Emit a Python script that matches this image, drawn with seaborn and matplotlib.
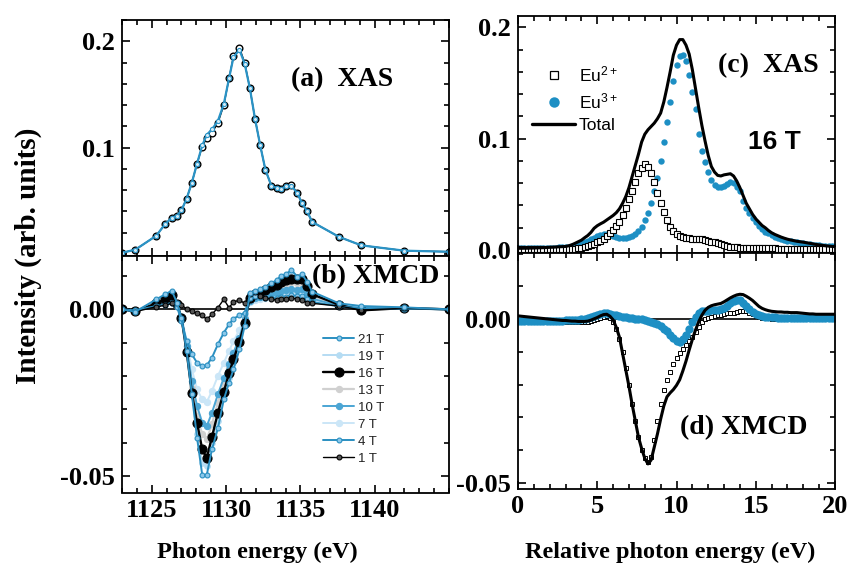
import numpy as np
import pandas as pd
import matplotlib
matplotlib.use("Agg")
import matplotlib.pyplot as plt
from matplotlib.lines import Line2D
from matplotlib.ticker import MultipleLocator, FixedLocator, FuncFormatter
import seaborn as sns

sns.set_style("ticks")
plt.rcParams['font.family'] = ['Liberation Serif', 'DejaVu Serif']
plt.rcParams['font.weight'] = 'bold'
plt.rcParams['axes.unicode_minus'] = False
plt.rcParams['mathtext.default'] = 'regular'
plt.rcParams['text.color'] = 'black'
plt.rcParams['axes.labelcolor'] = 'black'
plt.rcParams['xtick.color'] = 'black'
plt.rcParams['ytick.color'] = 'black'
plt.rcParams['axes.edgecolor'] = 'black'

# ---------------- data: panels (a) and (b) ----------------
energy_b = [1123.0, 1123.9, 1125.3, 1125.9, 1126.35, 1126.7, 1127.0, 1127.35, 1127.7, 1128.05,
            1128.4, 1128.7, 1129.05, 1129.45, 1129.85, 1130.2, 1130.5, 1130.9, 1131.25, 1131.6,
            1131.95, 1132.3, 1132.65, 1133.05, 1133.4, 1133.7, 1134.05, 1134.4, 1134.8, 1135.1,
            1135.45, 1135.8, 1137.6, 1139.1, 1142.0, 1145.0]

xas_black = [0.001, 0.004, 0.017, 0.028, 0.034, 0.036, 0.041, 0.052, 0.067, 0.085,
             0.101, 0.109, 0.114, 0.123, 0.140, 0.165, 0.186, 0.194, 0.180, 0.156,
             0.127, 0.102, 0.079, 0.064, 0.062, 0.061, 0.064, 0.065, 0.057, 0.048,
             0.040, 0.030, 0.016, 0.008, 0.003, 0.002]
xas_blue = [0.001, 0.004, 0.017, 0.028, 0.034, 0.036, 0.041, 0.052, 0.067, 0.085,
            0.102, 0.112, 0.117, 0.125, 0.141, 0.165, 0.185, 0.192, 0.179, 0.156,
            0.127, 0.102, 0.079, 0.064, 0.062, 0.061, 0.064, 0.064, 0.057, 0.048,
            0.040, 0.030, 0.016, 0.008, 0.003, 0.002]

xmcd_21T = [0.0, -0.0007, 0.0030, 0.0045, 0.0056, 0.0020, -0.0025, -0.0125, -0.0255, -0.0385,
            -0.0497, -0.0497, -0.0420, -0.0357, -0.0270, -0.0220, -0.0180, -0.0120, -0.0050, 0.0048,
            0.0056, 0.0060, 0.0068, 0.0078, 0.0088, 0.0100, 0.0106, 0.0118, 0.0098, 0.0106,
            0.0083, 0.0053, 0.0018, 0.0010, 0.0006, 0.0]
xmcd_19T = [0.0, -0.0006, 0.0026, 0.0040, 0.0050, 0.0018, -0.0025, -0.0125, -0.0250, -0.0375,
            -0.0460, -0.0470, -0.0400, -0.0335, -0.0260, -0.0205, -0.0160, -0.0100, -0.0040, 0.0042,
            0.0050, 0.0055, 0.0062, 0.0072, 0.0080, 0.0090, 0.0095, 0.0105, 0.0092, 0.0098,
            0.0078, 0.0050, 0.0016, 0.0008, 0.0005, 0.0]
xmcd_16T = [0.0, -0.0006, 0.0018, 0.0030, 0.0042, 0.0015, -0.0025, -0.0127, -0.0250, -0.0340,
            -0.0420, -0.0446, -0.0383, -0.0310, -0.0247, -0.0192, -0.0150, -0.0097, -0.0040, 0.0035,
            0.0045, 0.0050, 0.0058, 0.0066, 0.0074, 0.0082, 0.0088, 0.0092, 0.0090, 0.0092,
            0.0070, 0.0045, 0.0014, -0.0003, 0.0004, 0.0]
xmcd_13T = [0.0, -0.0005, 0.0016, 0.0026, 0.0036, 0.0013, -0.0025, -0.0120, -0.0235, -0.0320,
            -0.0375, -0.0390, -0.0345, -0.0280, -0.0225, -0.0175, -0.0140, -0.0090, -0.0035, 0.0030,
            0.0040, 0.0045, 0.0050, 0.0058, 0.0065, 0.0072, 0.0077, 0.0082, 0.0080, 0.0082,
            0.0062, 0.0040, 0.0013, 0.0005, 0.0004, 0.0]
xmcd_10T = [0.0, -0.0005, 0.0014, 0.0022, 0.0030, 0.0012, -0.0022, -0.0110, -0.0215, -0.0290,
            -0.0340, -0.0350, -0.0310, -0.0255, -0.0205, -0.0165, -0.0130, -0.0085, -0.0030, 0.0025,
            0.0033, 0.0036, 0.0040, 0.0045, 0.0050, 0.0055, 0.0058, 0.0062, 0.0058, 0.0060,
            0.0045, 0.0032, 0.0011, 0.0004, 0.0003, 0.0]
xmcd_7T = [0.0, -0.0004, 0.0012, 0.0018, 0.0025, 0.0010, -0.0020, -0.0095, -0.0180, -0.0240,
           -0.0270, -0.0278, -0.0245, -0.0200, -0.0160, -0.0125, -0.0095, -0.0062, -0.0020, 0.0022,
           0.0028, 0.0030, 0.0034, 0.0038, 0.0042, 0.0046, 0.0048, 0.0052, 0.0048, 0.0050,
           0.0038, 0.0027, 0.0010, 0.0004, 0.0003, 0.0]
xmcd_4T = [0.0, -0.0003, 0.0010, 0.0014, 0.0020, 0.0008, -0.0035, -0.0095, -0.0135, -0.0160,
           -0.0170, -0.0168, -0.0145, -0.0105, -0.0070, -0.0045, -0.0028, -0.0018, -0.0010, 0.0035,
           0.0040, 0.0036, 0.0034, 0.0033, 0.0034, 0.0036, 0.0038, 0.0042, 0.0040, 0.0040,
           0.0030, 0.0022, 0.0009, 0.0003, 0.0002, 0.0]
xmcd_1T = [0.0, -0.0007, 0.0008, 0.0012, 0.0018, 0.0018, 0.0012, 0.0002, -0.0006, -0.0012,
           -0.0018, -0.0030, -0.0015, 0.0005, 0.0030, 0.0005, 0.0022, 0.0028, 0.0018, 0.0045,
           0.0052, 0.0040, 0.0035, 0.0030, 0.0028, 0.0030, 0.0030, 0.0035, 0.0030, 0.0028,
           0.0020, 0.0018, 0.0010, -0.0002, 0.0003, 0.0]

field_labels = ['21 T', '19 T', '16 T', '13 T', '10 T', '7 T', '4 T', '1 T']

# ---------------- data: panels (c) and (d) ----------------
rel_energy = [0.0, 0.2, 0.4, 0.6, 0.8, 1.0, 1.2, 1.4, 1.6, 1.8,
              2.0, 2.2, 2.4, 2.6, 2.8, 3.0, 3.2, 3.4, 3.6, 3.8,
              4.0, 4.2, 4.4, 4.6, 4.8, 5.0, 5.2, 5.4, 5.6, 5.8,
              6.0, 6.2, 6.4, 6.6, 6.8, 7.0, 7.2, 7.4, 7.6, 7.8,
              8.0, 8.2, 8.4, 8.6, 8.8, 9.0, 9.2, 9.4, 9.6, 9.8,
              10.0, 10.2, 10.4, 10.6, 10.8, 11.0, 11.2, 11.4, 11.6, 11.8,
              12.0, 12.2, 12.4, 12.6, 12.8, 13.0, 13.2, 13.4, 13.6, 13.8,
              14.0, 14.2, 14.4, 14.6, 14.8, 15.0, 15.2, 15.4, 15.6, 15.8,
              16.0, 16.2, 16.4, 16.6, 16.8, 17.0, 17.2, 17.4, 17.6, 17.8,
              18.0, 18.2, 18.4, 18.6, 18.8, 19.0, 19.2, 19.4, 19.6, 19.8,
              20.0]

xas_eu2 = [.0005, .0005, .0005, .0005, .0005, .0005, .0006, .0006, .0006, .0006,
           .0007, .0007, .0007, .0007, .0008, .0008, .0009, .0010, .0012, .0015,
           .0020, .0027, .0034, .0044, .0058, .0072, .0085, .0100, .0122, .0152,
           .0183, .0213, .0250, .0310, .0380, .0460, .0530, .0610, .0690, .0740,
           .0770, .0750, .0690, .0610, .0510, .0420, .0340, .0270, .0210, .0170,
           .0145, .0125, .0115, .0110, .0105, .0103, .0101, .0099, .0096, .0091,
           .0083, .0076, .0068, .0060, .0051, .0043, .0036, .0031, .0027, .0024,
           .0022, .0021, .0020, .0019, .0018, .0017, .0016, .0016, .0015, .0015,
           .0014, .0014, .0013, .0013, .0012, .0012, .0012, .0011, .0011, .0011,
           .0010, .0010, .0010, .0009, .0009, .0009, .0008, .0008, .0008, .0007,
           .0007]
xas_eu3 = [.0015, .0015, .0015, .0016, .0016, .0017, .0017, .0018, .0018, .0019,
           .0020, .0021, .0022, .0024, .0026, .0028, .0030, .0034, .0040, .0050,
           .0060, .0070, .0083, .0095, .0110, .0122, .0133, .0142, .0142, .0136,
           .0125, .0115, .0107, .0104, .0106, .0113, .0125, .0143, .0168, .0210,
           .0265, .0335, .0420, .0527, .0650, .0800, .0970, .1150, .1330, .1520,
           .1665, .1740, .1750, .1695, .1570, .1420, .1270, .1040, .0890, .0790,
           .0700, .0630, .0585, .0563, .0568, .0578, .0595, .0607, .0600, .0570,
           .0530, .0444, .0380, .0330, .0285, .0250, .0220, .0190, .0165, .0150,
           .0135, .0120, .0110, .0100, .0092, .0085, .0078, .0073, .0068, .0063,
           .0059, .0055, .0051, .0048, .0045, .0042, .0040, .0037, .0035, .0033,
           .0030]
xas_total = [.0015, .0015, .0016, .0016, .0017, .0018, .0019, .0020, .0021, .0022,
             .0024, .0025, .0027, .0029, .0030, .0032, .0038, .0047, .0060, .0074,
             .0088, .0110, .0130, .0158, .0195, .0218, .0235, .0250, .0270, .0290,
             .0310, .0335, .0370, .0420, .0480, .0560, .0660, .0760, .0860, .0970,
             .1040, .1080, .1110, .1140, .1180, .1230, .1330, .1460, .1600, .1750,
             .1840, .1890, .1890, .1840, .1760, .1620, .1450, .1280, .1120, .0980,
             .0850, .0750, .0700, .0670, .0665, .0675, .0680, .0685, .0665, .0620,
             .0560, .0490, .0420, .0370, .0320, .0280, .0250, .0220, .0200, .0175,
             .0155, .0140, .0128, .0116, .0106, .0097, .0090, .0084, .0078, .0074,
             .0070, .0065, .0060, .0055, .0050, .0046, .0042, .0038, .0035, .0032,
             .0030]

xmcd_eu2 = [-.0003, -.0003, -.0004, -.0004, -.0005, -.0005, -.0005, -.0006, -.0006, -.0006,
            -.0007, -.0007, -.0007, -.0008, -.0008, -.0008, -.0009, -.0009, -.0010, -.0010,
            -.0010, -.0010, -.0009, -.0007, -.0004, .0000, .0004, .0008, .0009, .0005,
            -.0008, -.0030, -.0060, -.0100, -.0150, -.0200, -.0260, -.0310, -.0360, -.0400,
            -.0425, -.0435, -.0420, -.0370, -.0310, -.0260, -.0215, -.0185, -.0160, -.0138,
            -.0118, -.0103, -.0090, -.0080, -.0068, -.0055, -.0040, -.0025, -.0010, .0000,
            .0005, .0008, .0010, .0012, .0014, .0016, .0018, .0019, .0020, .0022,
            .0024, .0025, .0024, .0020, .0015, .0010, .0007, .0005, .0004, .0003,
            .0002, .0002, .0002, .0002, .0002, .0002, .0002, .0002, .0002, .0002,
            .0001, .0001, .0001, .0001, .0001, .0001, .0001, .0001, .0001, .0001,
            .0001]
xmcd_eu3 = [-.0005, -.0005, -.0005, -.0005, -.0005, -.0005, -.0005, -.0005, -.0005, -.0005,
            -.0005, -.0005, -.0005, -.0005, -.0005, -.0004, -.0004, -.0003, -.0003, -.0002,
            .0000, .0002, .0004, .0007, .0010, .0013, .0016, .0018, .0018, .0016,
            .0014, .0012, .0010, .0008, .0006, .0005, .0003, .0002, .0001, -.0001,
            -.0003, -.0005, -.0008, -.0011, -.0016, -.0022, -.0029, -.0037, -.0047, -.0058,
            -.0068, -.0071, -.0061, -.0047, -.0030, -.0010, .0008, .0018, .0024, .0026,
            .0026, .0027, .0027, .0029, .0032, .0035, .0041, .0049, .0056, .0059,
            .0057, .0050, .0041, .0031, .0022, .0016, .0012, .0010, .0008, .0007,
            .0006, .0006, .0005, .0005, .0005, .0005, .0005, .0005, .0005, .0005,
            .0004, .0004, .0004, .0004, .0004, .0003, .0003, .0003, .0003, .0003,
            .0003]
xmcd_total = [.0010, .0009, .0008, .0007, .0006, .0005, .0004, .0003, .0002, .0001,
              .0000, -.0001, -.0002, -.0003, -.0004, -.0004, -.0005, -.0006, -.0006, -.0007,
              -.0007, -.0007, -.0006, -.0003, .0001, .0005, .0010, .0014, .0015, .0009,
              -.0002, -.0025, -.0055, -.0105, -.0155, -.0205, -.0260, -.0310, -.0360, -.0395,
              -.0425, -.0442, -.0430, -.0390, -.0350, -.0305, -.0265, -.0237, -.0225, -.0215,
              -.0202, -.0185, -.0158, -.0128, -.0094, -.0062, -.0033, -.0008, .0012, .0027,
              .0036, .0041, .0044, .0046, .0048, .0053, .0059, .0065, .0070, .0074,
              .0076, .0075, .0070, .0064, .0057, .0048, .0039, .0033, .0029, .0026,
              .0024, .0023, .0022, .0022, .0021, .0021, .0020, .0020, .0020, .0019,
              .0018, .0017, .0016, .0016, .0015, .0015, .0015, .0015, .0015, .0015,
              .0015]

# ---------------- styles ----------------
BLUE = '#1d8fc4'
TICK_FS = 19
PANEL_FS = 20
SANS = 'Liberation Sans'

fig = plt.figure(figsize=(8.51, 5.66), dpi=100)
W, H = 851.0, 566.0


def box(x0, y0, x1, y1):
    return [x0 / W, 1 - y1 / H, (x1 - x0) / W, (y1 - y0) / H]


axA = fig.add_axes(box(122, 20, 449, 256))
axB = fig.add_axes(box(122, 256, 449, 492.5))
axC = fig.add_axes(box(518, 16, 835, 253))
axD = fig.add_axes(box(518, 253, 835, 488.5))


def style(ax):
    ax.tick_params(which='both', direction='in', top=True, right=True,
                   labelsize=TICK_FS, width=1.2, colors='black', labelcolor='black')
    ax.tick_params(which='major', length=6, pad=5)
    ax.tick_params(which='minor', length=3.5)
    for s in ax.spines.values():
        s.set_linewidth(1.3)
        s.set_color('black')
    ax.set_xlabel('')
    ax.set_ylabel('')


# ---------- (a) ----------
dfa = pd.DataFrame({'E': energy_b, 'black': xas_black, 'blue': xas_blue})
sns.lineplot(data=dfa, x='E', y='black', ax=axA, color='black', linewidth=1.0,
             marker='o', markersize=4.8, markerfacecolor='white',
             markeredgecolor='black', markeredgewidth=1.0, sort=False)
sns.lineplot(data=dfa, x='E', y='blue', ax=axA, color='#2a93c6', linewidth=1.6,
             marker='o', markersize=3.0, markerfacecolor='#d5ecf8',
             markeredgecolor='#2a93c6', markeredgewidth=0.8, sort=False)
axA.set_xlim(1123, 1145)
axA.set_ylim(-0.002, 0.22)
axA.xaxis.set_major_locator(MultipleLocator(5))
axA.xaxis.set_minor_locator(MultipleLocator(1))
axA.yaxis.set_major_locator(FixedLocator([0.1, 0.2]))
axA.yaxis.set_minor_locator(MultipleLocator(0.02))
axA.yaxis.set_major_formatter(FuncFormatter(lambda v, p: f'{v:.1f}'))
style(axA)
axA.tick_params(labelbottom=False)
axA.text(1137.8, 0.164, '(a)  XAS', ha='center', va='center', fontsize=PANEL_FS,
         color='black')

# ---------- (b) ----------
axB.axhline(0, color='black', lw=1.2, zorder=1)
dfb = pd.DataFrame({'E': energy_b, '21 T': xmcd_21T, '19 T': xmcd_19T, '16 T': xmcd_16T,
                    '13 T': xmcd_13T, '10 T': xmcd_10T, '7 T': xmcd_7T, '4 T': xmcd_4T,
                    '1 T': xmcd_1T})
bstyle = {
    '21 T': dict(color='#2a8fc1', linewidth=1.4, markersize=3.5, markerfacecolor='#8cc8ea', markeredgecolor='#2a8fc1'),
    '19 T': dict(color='#b5dcf3', linewidth=1.4, markersize=4.0, markerfacecolor='#b5dcf3', markeredgecolor='#b5dcf3'),
    '16 T': dict(color='black', linewidth=1.7, markersize=6.5, markerfacecolor='black', markeredgecolor='black'),
    '13 T': dict(color='#d0d0d0', linewidth=1.6, markersize=4.5, markerfacecolor='#d0d0d0', markeredgecolor='#d0d0d0'),
    '10 T': dict(color='#4ba5d4', linewidth=1.4, markersize=4.5, markerfacecolor='#4ba5d4', markeredgecolor='#4ba5d4'),
    '7 T': dict(color='#cbe6f7', linewidth=1.4, markersize=4.5, markerfacecolor='#cbe6f7', markeredgecolor='#cbe6f7'),
    '4 T': dict(color='#2a8fc1', linewidth=1.4, markersize=3.5, markerfacecolor='#8cc8ea', markeredgecolor='#2a8fc1'),
    '1 T': dict(color='black', linewidth=1.0, markersize=3.5, markerfacecolor='#555555', markeredgecolor='black'),
}
for lab in ['7 T', '13 T', '19 T', '10 T', '16 T', '4 T', '1 T', '21 T']:
    sns.lineplot(data=dfb, x='E', y=lab, ax=axB, marker='o', markeredgewidth=0.8,
                 sort=False, **bstyle[lab])
axB.set_xlim(1123, 1145)
axB.set_ylim(-0.0549, 0.016)
axB.xaxis.set_major_locator(FixedLocator([1125, 1130, 1135, 1140]))
axB.xaxis.set_minor_locator(MultipleLocator(1))
axB.yaxis.set_major_locator(FixedLocator([-0.05, 0.0]))
axB.yaxis.set_minor_locator(MultipleLocator(0.01))
axB.yaxis.set_major_formatter(FuncFormatter(lambda v, p: f'{v:.2f}'))
style(axB)
axB.text(1140.07, 0.0097, '(b) XMCD', ha='center', va='center', fontsize=PANEL_FS,
         color='black')
hb = [Line2D([], [], marker='o', markeredgewidth=0.8, **bstyle[lab]) for lab in field_labels]
legb = axB.legend(hb, field_labels, loc='upper left', bbox_to_anchor=(0.615, 0.672),
                  frameon=False, prop={'family': SANS, 'weight': 'normal', 'size': 9.5},
                  handlelength=2.35, handletextpad=0.3, labelspacing=0.36,
                  borderpad=0, borderaxespad=0)
for t in legb.get_texts():
    t.set_color('#222222')

# ---------- (c) ----------
dfc = pd.DataFrame({'E': rel_energy, 'eu2': xas_eu2, 'eu3': xas_eu3, 'total': xas_total})
sns.lineplot(data=dfc, x='E', y='eu3', ax=axC, linestyle='none', marker='o', color=BLUE,
             markersize=4.6, markeredgecolor=BLUE, markeredgewidth=0)
sns.lineplot(data=dfc, x='E', y='eu2', ax=axC, linestyle='none', marker='s', color='black',
             markersize=4.0, markerfacecolor='white', markeredgecolor='black', markeredgewidth=0.8)
sns.lineplot(data=dfc, x='E', y='total', ax=axC, color='black', linewidth=2.2)
axC.set_xlim(0, 20)
axC.set_ylim(-0.0027, 0.2102)
axC.xaxis.set_major_locator(MultipleLocator(5))
axC.xaxis.set_minor_locator(MultipleLocator(1))
axC.yaxis.set_major_locator(FixedLocator([0.0, 0.1, 0.2]))
axC.yaxis.set_minor_locator(MultipleLocator(0.02))
axC.yaxis.set_major_formatter(FuncFormatter(lambda v, p: f'{v:.1f}'))
style(axC)
axC.tick_params(labelbottom=False)
axC.text(15.79, 0.166, '(c)  XAS', ha='center', va='center', fontsize=PANEL_FS,
         color='black')
axC.text(16.15, 0.0966, '16 T', ha='center', va='center', fontsize=19,
         family=SANS, fontweight='bold', color='black')
hc = [Line2D([], [], linestyle='none', marker='s', markersize=5.5, markerfacecolor='white',
             markeredgecolor='black', markeredgewidth=0.9),
      Line2D([], [], linestyle='none', marker='o', markersize=7.5, color=BLUE,
             markeredgewidth=0),
      Line2D([], [], color='black', linewidth=2.4)]
legc = axC.legend(hc, ['Eu$^{2+}$', 'Eu$^{3+}$', 'Total'], loc='upper left',
                  bbox_to_anchor=(0.044, 0.795), frameon=False,
                  prop={'family': SANS, 'weight': 'normal', 'size': 12.5},
                  handlelength=2.5, handletextpad=0.2, labelspacing=0.38,
                  borderpad=0, borderaxespad=0)
for t in legc.get_texts():
    t.set_color('black')

# ---------- (d) ----------
axD.axhline(0, color='black', lw=1.2, zorder=1)
dfd = pd.DataFrame({'E': rel_energy, 'eu2': xmcd_eu2, 'eu3': xmcd_eu3, 'total': xmcd_total})
sns.lineplot(data=dfd, x='E', y='eu2', ax=axD, linestyle='none', marker='s', color='black',
             markersize=3.4, markerfacecolor='white', markeredgecolor='black', markeredgewidth=0.7)
sns.lineplot(data=dfd, x='E', y='eu3', ax=axD, linestyle='none', marker='o', color=BLUE,
             markersize=6.0, markeredgecolor=BLUE, markeredgewidth=0)
sns.lineplot(data=dfd, x='E', y='total', ax=axD, color='black', linewidth=2.2)
axD.set_xlim(0, 20)
axD.set_ylim(-0.0517, 0.0202)
axD.xaxis.set_major_locator(MultipleLocator(5))
axD.xaxis.set_minor_locator(MultipleLocator(1))
axD.xaxis.set_major_formatter(FuncFormatter(lambda v, p: f'{v:.0f}'))
axD.yaxis.set_major_locator(FixedLocator([-0.05, 0.0]))
axD.yaxis.set_minor_locator(MultipleLocator(0.01))
axD.yaxis.set_major_formatter(FuncFormatter(lambda v, p: f'{v:.2f}'))
style(axD)
axD.text(14.26, -0.0331, '(d) XMCD', ha='center', va='center', fontsize=PANEL_FS,
         color='black')

# ---------- axis titles ----------
fig.text(0.033, 0.548, 'Intensity (arb. units)', rotation=90, ha='center', va='center',
         fontsize=21, color='black')
fig.text(257 / W, 1 - 552 / H, 'Photon energy (eV)', ha='center', va='center',
         fontsize=17.5, color='black')
fig.text(670 / W, 1 - 552 / H, 'Relative photon energy (eV)', ha='center', va='center',
         fontsize=17.5, color='black')

fig.savefig('out.png', dpi=100)
